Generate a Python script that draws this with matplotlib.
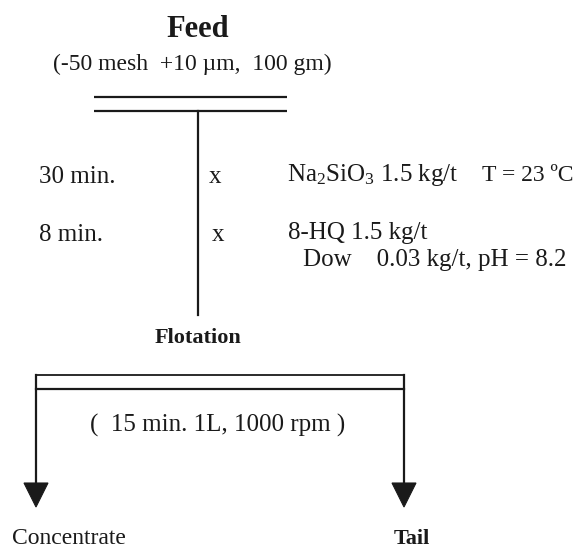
import matplotlib
matplotlib.use("Agg")
import matplotlib.pyplot as plt
from matplotlib.patches import Polygon

plt.rcParams["font.family"] = ["Liberation Serif", "DejaVu Serif"]
plt.rcParams["mathtext.fontset"] = "custom"
plt.rcParams["mathtext.rm"] = "Liberation Serif"
plt.rcParams["mathtext.it"] = "Liberation Serif:italic"

# ---------- flowsheet content ----------
FEED_TITLE = "Feed"
FEED_DESC = "(-50 mesh  +10 µm,  100 gm)"

step_times = ["30 min.", "8 min."]
step_marks = ["x", "x"]
step_reagents = [r"Na$_2$SiO$_3$ 1.5 kg/t", "8-HQ 1.5 kg/t"]
step_extra = ["T = 23 ºC", "Dow    0.03 kg/t, pH = 8.2"]

UNIT_NAME = "Flotation"
UNIT_COND = "(  15 min. 1L, 1000 rpm )"
products = ["Concentrate", "Tail"]

# ---------- layout (pixel coords, y downwards) ----------
W, H = 576, 550
CX = 198
row_y = [183, 241]
fs = 17
fs_big = 18
lw = 1.6
ink = "#1a1a1a"

fig = plt.figure(figsize=(W / 100, H / 100), dpi=100)
ax = fig.add_axes([0, 0, 1, 1])
ax.set_xlim(0, W)
ax.set_ylim(H, 0)
ax.axis("off")

# feed
ax.text(CX, 37, FEED_TITLE, ha="center", va="baseline", fontsize=22,
        fontweight="bold", color=ink)
ax.text(53, 70, FEED_DESC, ha="left", va="baseline", fontsize=fs, color=ink)

# conditioning tank (double bar) and stem
for yy in (97, 111):
    ax.plot([94, 287], [yy, yy], color=ink, lw=lw, solid_capstyle="butt")
ax.plot([CX, CX], [111, 315], color=ink, lw=lw)

# conditioning steps
for i in range(2):
    ax.text(39, row_y[i], step_times[i], ha="left", va="baseline",
            fontsize=fs_big, color=ink)
ax.text(209, row_y[0], step_marks[0], ha="left", va="baseline", fontsize=fs_big, color=ink)
ax.text(212, row_y[1], step_marks[1], ha="left", va="baseline", fontsize=fs_big, color=ink)
ax.text(287, row_y[0] - 2, step_reagents[0], ha="left", va="baseline", fontsize=fs_big, color=ink)
ax.text(573, row_y[0] - 2, step_extra[0], ha="right", va="baseline", fontsize=fs, color=ink)
ax.text(288, row_y[1] - 2, step_reagents[1], ha="left", va="baseline", fontsize=fs_big, color=ink)
ax.text(303, row_y[1] + 25, step_extra[1], ha="left", va="baseline", fontsize=fs_big, color=ink)

# flotation cell
ax.text(CX, 343, UNIT_NAME, ha="center", va="baseline", fontsize=16,
        fontweight="bold", color=ink)
x_left, x_right = 36, 404
ax.plot([x_left, x_right], [375, 375], color=ink, lw=1.3)
ax.plot([x_left, x_right], [389, 389], color=ink, lw=lw)
ax.text(90, 432, UNIT_COND, ha="left", va="baseline", fontsize=fs_big, color=ink)

# product streams
for xx in (x_left, x_right):
    ax.plot([xx, xx], [375, 486], color=ink, lw=lw)
    ax.add_patch(Polygon([[xx - 12, 483], [xx + 12, 483], [xx, 507]],
                         closed=True, facecolor=ink, edgecolor=ink, lw=0.8))

ax.text(12, 544, products[0], ha="left", va="baseline", fontsize=fs, color=ink)
ax.text(412, 544, products[1], ha="center", va="baseline", fontsize=16,
        fontweight="bold", color=ink)

fig.savefig("out.png", dpi=100, facecolor="white")
plt.close(fig)
